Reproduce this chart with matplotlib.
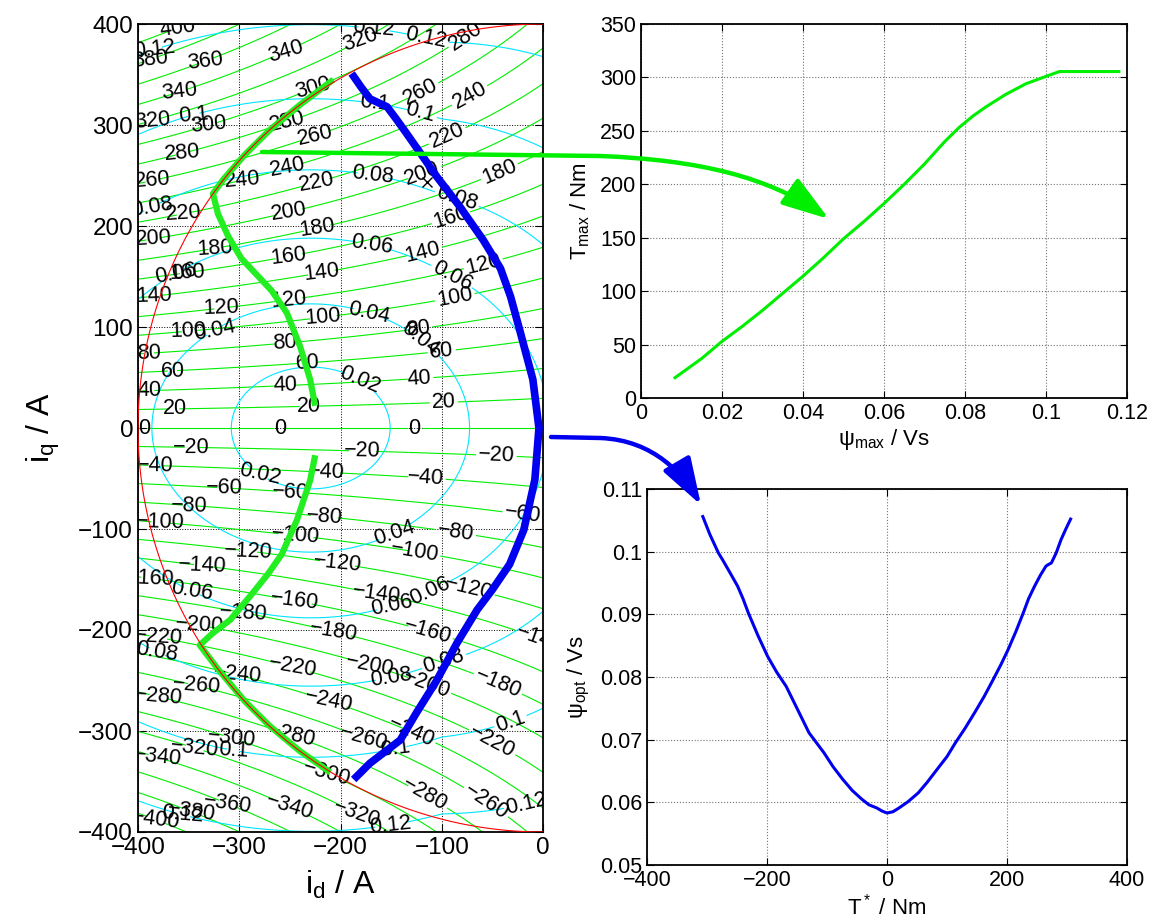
import numpy as np
import matplotlib
matplotlib.use('Agg')
import matplotlib.pyplot as plt
from matplotlib.path import Path
from matplotlib.patches import FancyArrowPatch
from matplotlib.transforms import IdentityTransform
from matplotlib.ticker import FuncFormatter

plt.rcParams['font.family'] = ['Liberation Sans', 'DejaVu Sans']
plt.rcParams['mathtext.fontset'] = 'custom'
plt.rcParams['mathtext.rm'] = 'Liberation Sans'
plt.rcParams['mathtext.it'] = 'Liberation Sans:italic'
plt.rcParams['contour.negative_linestyle'] = 'solid'

I_MAX = 400.0
PSI_PM = 0.0585
L_D = 0.000255
L_Q0 = 0.000338
I_SAT_Q = 3200.0
CROSS_SAT = 0.06
T_A = 0.68
T_B = 0.00115
T_C = 3e-7
T_SAT = 0.07

torque_levels = np.arange(-400, 401, 20)
flux_levels = [0.02, 0.04, 0.06, 0.08, 0.1, 0.12]

# thick green curve (max torque for given flux), upper and lower branch
green_up_id = [-207, -240, -270, -295, -315, -326, -321, -311, -298, -283, -268, -253, -240, -230, -225]
green_up_iq = [345, 320, 295, 270, 247, 232, 212, 190, 168, 152, 136, 114, 81, 48, 22]
green_lo_id = [-225, -230, -243, -258, -272, -288, -309, -326, -339, -320, -295, -270, -240, -210]
green_lo_iq = [-27, -52, -91, -125, -145, -165, -190, -203, -215, -240, -270, -295, -320, -341]

# thick blue curve (optimal flux locus)
blue_id = [-189, -180, -171, -154, -145, -135, -121, -105, -82, -59, -42, -32, -23, -10, -4,
           -8, -19, -33, -50, -65, -85, -105, -125, -141, -158, -171, -187]
blue_iq = [351, 338, 326, 318, 306, 292, 272, 249, 219, 186, 158, 130, 97, 48, 0,
           -51, -101, -135, -160, -180, -213, -250, -282, -309, -322, -332, -348]

cross_id, cross_iq = -115, 244

# T_max over psi_max
psi_max = [0.0084, 0.015, 0.02, 0.025, 0.03, 0.035, 0.04, 0.045, 0.05, 0.055, 0.06, 0.065,
           0.07, 0.075, 0.0785, 0.082, 0.085, 0.09, 0.095, 0.1, 0.1033, 0.118]
t_max = [19, 37, 53, 67, 82, 98, 114, 131, 149, 165, 182, 200,
         219, 240, 253, 264, 272, 284, 294, 301, 305.5, 305.5]

# psi_opt over T*
t_ref = [-307, -295, -281, -274, -262, -249, -240, -231, -215, -199, -184, -168, -150, -130,
         -105, -90, -74, -58, -42, -30, -17, -8, 0, 10, 20, 35, 52, 67, 83, 100, 114, 130,
         146, 162, 177, 190, 202, 215, 227, 236, 246, 256, 265, 270, 274, 282, 290, 298, 306]
psi_opt = [0.1056, 0.1027, 0.0998, 0.0987, 0.0967, 0.0945, 0.0925, 0.0902, 0.0866, 0.0833,
           0.0808, 0.0785, 0.0750, 0.0711, 0.0679, 0.0657, 0.0637, 0.0619, 0.0605, 0.0596,
           0.0591, 0.0586, 0.0583, 0.0585, 0.0591, 0.0601, 0.0615, 0.0632, 0.0652, 0.0673,
           0.0695, 0.0718, 0.0743, 0.0769, 0.0796, 0.0820, 0.0844, 0.0873, 0.0902, 0.0925,
           0.0945, 0.0963, 0.0977, 0.0980, 0.0982, 0.0998, 0.1019, 0.1036, 0.1052]

fig = plt.figure(figsize=(11.52, 9.22), dpi=100)
W, H = 1152.0, 922.0
axL = fig.add_axes([138 / W, 1 - 832 / H, 405 / W, 808 / H])
axT = fig.add_axes([641 / W, 1 - 398 / H, 486 / W, 374 / H])
axB = fig.add_axes([647 / W, 1 - 865 / H, 480 / W, 376 / H])

# ---- left: current plane maps
ids = np.linspace(-400, 0, 401)
iqs = np.linspace(-400, 400, 801)
ID, IQ = np.meshgrid(ids, iqs)
X = -ID
TQ = IQ * (T_A * (1 - T_SAT * (IQ / 400) ** 2) + T_B * X - T_C * X ** 2)
lq_fac = 1 - CROSS_SAT * np.clip((ID + 100) / 100, 0, 1)
PSI = np.hypot(PSI_PM + L_D * ID, lq_fac * L_Q0 * IQ / (1 + np.abs(IQ) / I_SAT_Q))

fmt = lambda v: f'{v:g}'.replace('-', '\u2212')
for sl in [slice(0, 135), slice(134, 268), slice(267, 401)]:
    cs = axL.contour(ID[:, sl], IQ[:, sl], TQ[:, sl], levels=torque_levels,
                     colors='#00ee00', linewidths=0.8)
    axL.clabel(cs, fmt=fmt, fontsize=15.5, colors='k', inline=True, inline_spacing=2)
    cf = axL.contour(ID[:, sl], IQ[:, sl], PSI[:, sl], levels=flux_levels,
                     colors='#00e5ff', linewidths=0.8)
    axL.clabel(cf, fmt=fmt, fontsize=15.5, colors='k', inline=True, inline_spacing=2)

axL.plot(green_up_id, green_up_iq, color='#22ee22', lw=4.5, zorder=4, solid_capstyle='butt')
axL.plot(green_lo_id, green_lo_iq, color='#22ee22', lw=4.5, zorder=4, solid_capstyle='butt')
axL.contour(ID, IQ, np.hypot(ID, IQ), [I_MAX], colors='red', linewidths=0.8, zorder=5)
axL.plot(blue_id, blue_iq, color='#0000ee', lw=5.5, zorder=6, solid_capstyle='butt')
axL.plot(cross_id, cross_iq, 'kx', ms=7, mew=1, zorder=6)

axL.set_xlim(-400, 0)
axL.set_ylim(-400, 400)
axL.set_xticks(np.arange(-400, 1, 100))
axL.set_yticks(np.arange(-400, 401, 100))
axL.grid(True, ls=':', color='k', lw=0.7)
axL.tick_params(direction='in', top=True, right=True, labelsize=17.5, length=6)
axL.set_xlabel('i$_\\mathrm{d}$ / A', fontsize=23, labelpad=7)
axL.set_ylabel('i$_\\mathrm{q}$ / A', fontsize=23, labelpad=12)

# ---- right top
axT.plot(psi_max, t_max, color='#00ee00', lw=2.2)
axT.set_xlim(0, 0.12)
axT.set_ylim(0, 350)
axT.set_xticks(np.arange(0, 0.121, 0.02))
axT.set_yticks(np.arange(0, 351, 50))
axT.xaxis.set_major_formatter(FuncFormatter(lambda v, p: f'{v:g}'))
axT.set_xlabel('ψ$_\\mathrm{max}$ / Vs', fontsize=16, labelpad=2)
axT.set_ylabel('T$_\\mathrm{max}$ / Nm', fontsize=16, labelpad=6)

# ---- right bottom
axB.plot(t_ref, psi_opt, color='#0000ee', lw=2.2)
axB.set_xlim(-400, 400)
axB.set_ylim(0.05, 0.11)
axB.set_xticks(np.arange(-400, 401, 200))
axB.set_yticks(np.arange(0.05, 0.111, 0.01))
axB.yaxis.set_major_formatter(FuncFormatter(lambda v, p: f'{round(v, 2):g}'))
axB.set_xlabel('T$^*$ / Nm', fontsize=16, labelpad=2)
axB.set_ylabel('ψ$_\\mathrm{opt}$ / Vs', fontsize=16, labelpad=6)

for ax in (axT, axB):
    ax.grid(True, ls=':', color='0.45', lw=0.8)
    ax.tick_params(direction='in', top=True, right=True, labelsize=15.5, length=5)
for ax in (axL, axT, axB):
    for s in ax.spines.values():
        s.set_linewidth(1.3)

# ---- connecting arrows (figure pixel coordinates, y from top)
def px(x, y):
    return (x, H - y)

green_path = Path([px(262, 152), px(600, 156), px(700, 160), px(769, 177), px(829, 219)],
                  [Path.MOVETO, Path.LINETO, Path.CURVE4, Path.CURVE4, Path.CURVE4])
blue_path = Path([px(551, 437), px(600, 438), px(655, 440), px(684, 476), px(701, 505)],
                 [Path.MOVETO, Path.LINETO, Path.CURVE4, Path.CURVE4, Path.CURVE4])
for p, c in ((green_path, '#00ee00'), (blue_path, '#0000ee')):
    arr = FancyArrowPatch(path=p, arrowstyle='-|>,head_length=2.9,head_width=0.95',
                          mutation_scale=10, color=c, lw=3.2, transform=IdentityTransform())
    fig.add_artist(arr)

fig.savefig('out.png', dpi=100)
